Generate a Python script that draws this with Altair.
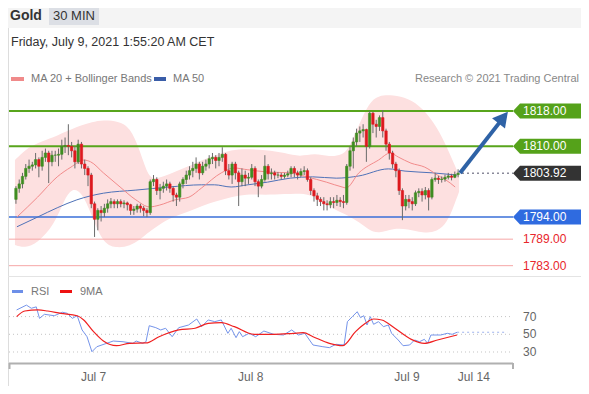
import altair as alt
import pandas as pd

FONT = "Liberation Sans"
W, H = 573, 378

# ---------------- data ----------------
first_open = 1798.0
closes = [1800.5, 1801.5, 1803.2, 1805, 1805.5, 1805.8, 1807, 1805.5, 1807.5, 1808.5,
          1806.5, 1808, 1808, 1808.2, 1810, 1810.2, 1810, 1809, 1806.5, 1810.5,
          1806, 1805, 1803.5, 1797, 1793.5, 1795.5, 1795, 1796, 1797, 1797.5,
          1797, 1797.5, 1797, 1797.2, 1796.8, 1795.5, 1795.8, 1796.5, 1796, 1795.5,
          1795, 1802, 1802.5, 1800, 1800.5, 1801, 1801.5, 1800.5, 1799, 1798.5,
          1801.5, 1802.5, 1803.5, 1804.5, 1805, 1806, 1804, 1805.5, 1806, 1807.2,
          1807.5, 1806.8, 1807.5, 1808.2, 1804.5, 1803.5, 1806, 1804, 1802, 1803.5,
          1802.8, 1803, 1805, 1802, 1801, 1802.5, 1805.5, 1803.8, 1804, 1803.5,
          1803.5, 1803.2, 1803.5, 1803.8, 1805, 1804, 1803.5, 1804.3, 1804.5, 1802.5,
          1800, 1798.8, 1798, 1797.5, 1797, 1796.8, 1797.5, 1797.3, 1797.8, 1797.5,
          1797.3, 1805.5, 1809, 1811, 1813, 1813.5, 1813.8, 1810, 1817.5, 1815,
          1814.5, 1816.5, 1813.5, 1810.5, 1808.5, 1806, 1804.5, 1800, 1796.5, 1798,
          1797.5, 1797, 1799.5, 1799.8, 1799, 1800, 1798.5, 1802.5, 1802.8, 1802.5,
          1802.6, 1803, 1803.3, 1803, 1803.6, 1803.92]
highs = [1801, 1802.5, 1804, 1806, 1807, 1806.5, 1808.5, 1807.5, 1809, 1809.5,
         1809, 1809, 1809, 1809.5, 1811.5, 1812, 1815, 1811, 1810, 1811.5,
         1811, 1807, 1805.5, 1804, 1797.5, 1796, 1796.5, 1797, 1798, 1798.3,
         1798, 1798, 1798, 1797.8, 1797.5, 1797, 1796.5, 1797, 1797, 1796.5,
         1796, 1802.5, 1803.5, 1803, 1801.5, 1802, 1802.5, 1802, 1801, 1799.5,
         1802, 1803, 1804.5, 1805.5, 1806.5, 1807.5, 1806.5, 1806.5, 1807, 1808,
         1808.5, 1808, 1808.5, 1809.8, 1808.5, 1806, 1806.5, 1806.5, 1804.5, 1805,
         1804.5, 1804, 1806, 1805.5, 1802.5, 1803.5, 1808, 1806, 1805, 1804.5,
         1804.2, 1804, 1804, 1804.5, 1805.5, 1805.5, 1804.5, 1805, 1805.5, 1805,
         1803, 1800.5, 1799.5, 1798.5, 1798.5, 1797.8, 1798.5, 1798.5, 1799, 1798.5,
         1799, 1806, 1810, 1812, 1814, 1814.5, 1815, 1814, 1818, 1817.8,
         1816, 1817, 1818.2, 1814, 1811, 1809, 1806.5, 1805, 1800.5, 1799,
         1799, 1798.5, 1800, 1800.5, 1800.5, 1800.8, 1800.5, 1803, 1804, 1803.3,
         1803.2, 1803.6, 1804, 1803.8, 1804.3, 1804.8]
lows = [1797, 1799.5, 1800.5, 1802.5, 1804, 1804.5, 1805, 1803, 1804.5, 1806.5,
        1801.7, 1805.5, 1806.5, 1805.5, 1807, 1808.5, 1808, 1807.5, 1805, 1806,
        1805, 1803.5, 1801, 1796, 1789.5, 1791, 1793, 1794, 1795, 1796,
        1796, 1796, 1796.2, 1796, 1795.5, 1794.5, 1794.5, 1795, 1795, 1794.2,
        1794, 1794.5, 1801, 1799, 1798, 1799.5, 1800, 1799.5, 1797.5, 1796.5,
        1797.5, 1800.5, 1801.5, 1802.5, 1803, 1804, 1802.5, 1803.5, 1804.5, 1805,
        1806, 1805, 1805.5, 1806.5, 1803.5, 1802.5, 1801.5, 1802.5, 1796.5, 1801,
        1801, 1801.5, 1802.5, 1801, 1798.5, 1800.5, 1802, 1802.5, 1802.5, 1802.5,
        1802.8, 1802.5, 1802.7, 1803, 1803, 1803, 1802.5, 1803, 1803.5, 1802,
        1799, 1797.5, 1796.5, 1796.5, 1795.5, 1795.5, 1796, 1796, 1796.5, 1796.3,
        1796, 1796.8, 1804.5, 1805, 1810, 1811, 1812, 1806.5, 1809.5, 1813,
        1812, 1813.5, 1812, 1809, 1807, 1805, 1803, 1799, 1793.3, 1795.5,
        1796, 1795.5, 1796.5, 1798.5, 1797.5, 1798, 1795.5, 1798, 1802, 1801.5,
        1801.8, 1802, 1802.5, 1802.3, 1802.8, 1803]

bb_idx = [-0.3, 2.7, 6.6, 11.7, 14.7, 17.1, 20.1, 23.1, 26.7, 31.2, 34.8, 37.8, 40.2,
          42.3, 46.8, 52.2, 56.7, 61.2, 65.7, 70.2, 76.2, 82.2, 86.7, 91.2, 95.7,
          99.6, 101.7, 104.7, 107.7, 110.7, 115.2, 119.7, 124.2, 128.7, 131.7, 133.5, 135.3]
bb_upper = [1806.9, 1809.2, 1810.8, 1812.1, 1813.2, 1813.9, 1814.8, 1815.5, 1816.0, 1815.7,
            1814.4, 1809.2, 1803.5, 1802.4, 1803.7, 1805.3, 1806.9, 1808.0, 1809.2, 1809.4,
            1809.2, 1808.5, 1807.6, 1808.5, 1807.6, 1808.0, 1809.6, 1814.8, 1819.8, 1821.6,
            1821.6, 1820.9, 1818.7, 1814.2, 1809.6, 1806.5, 1803.5]
bb_lower = [1787.7, 1787.0, 1788.1, 1792.2, 1797.9, 1800.6, 1799.7, 1794.5, 1787.7, 1787.0,
            1787.5, 1788.8, 1790.4, 1791.5, 1793.8, 1795.1, 1796.5, 1797.6, 1798.5, 1799.2,
            1799.0, 1799.2, 1799.4, 1798.8, 1796.3, 1794.9, 1794.2, 1792.9, 1791.1, 1790.2,
            1791.5, 1791.3, 1790.4, 1790.6, 1792.9, 1796.1, 1799.7]

ma20_idx = [0.3, 6.6, 12.6, 16.8, 20.7, 22.8, 26.7, 31.8, 36.6, 40.8, 43.8, 48.6, 52.8, 56.7,
            62.7, 66.6, 70.8, 76.8, 83.7, 88.8, 94.8, 99.6, 100.8, 104.7, 110.7, 114.3,
            116.7, 120.6, 124.8, 128.7, 132.6, 134.1]
ma20_val = [1794.0, 1798.5, 1803.1, 1805.3, 1806.9, 1806.5, 1804.0, 1800.8, 1797.9, 1796.3,
            1796.7, 1797.9, 1798.5, 1800.6, 1804.0, 1805.1, 1804.7, 1804.2, 1804.0, 1803.1,
            1801.9, 1800.8, 1800.6, 1804.0, 1806.9, 1808.5, 1807.6, 1806.2, 1805.3, 1803.5,
            1801.7, 1800.8]
ma50_idx = [0.3, 6.6, 12.6, 18.6, 22.8, 26.7, 36.6, 46.8, 56.7, 60.6, 65.7, 70.8, 76.8, 83.7,
            90.6, 97.8, 104.7, 113.7, 118.8, 127.3, 134.7]
ma50_val = [1791.8, 1794.0, 1796.1, 1797.9, 1798.8, 1799.4, 1800.1, 1800.8, 1801.3, 1801.3,
            1800.8, 1801.3, 1801.9, 1802.8, 1803.1, 1802.8, 1803.3, 1804.9, 1804.4, 1804.0,
            1803.5]

rsi_idx = [0.2, 3.2, 4.7, 6.2, 7.2, 8.7, 11.7, 14.2, 15.7, 17.2, 18.7, 20.2, 21.7, 23.2, 24.7,
           27.7, 29.7, 32.7, 35.7, 36.7, 38.7, 39.7, 40.7, 42.7, 44.2, 45.7, 47.7, 49.7, 52.7,
           55.2, 56.7, 58.7, 60.7, 62.7, 64.7, 65.7, 67.2, 68.2, 69.2, 71.2, 73.2, 75.7, 78.7,
           81.7, 84.2, 86.2, 88.2, 90.7, 93.7, 95.7, 97.7, 100.2, 101.2, 102.7, 104.2, 105.2,
           106.2, 107.2, 108.2, 109.2, 110.7, 112.2, 113.7, 114.7, 116.7, 118.2, 120.2, 121.7,
           123.2, 124.7, 125.7, 126.7, 129.7, 131.7, 133.2, 134.7]
rsi_val = [77.5, 83, 79.4, 81, 68, 72.6, 71, 74.9, 73.7, 68, 71, 54.9, 47.3, 30.3, 36,
           39.8, 42.4, 41.6, 39.8, 42.4, 39.8, 41.6, 59.7, 57.5, 54.9, 56.8, 47.3, 57.5, 60.5,
           67.3, 58.6, 66.2, 64.3, 66.2, 51.1, 56.8, 46.2, 53, 47.3, 51.1, 47.3, 53.7, 50,
           49.2, 54.9, 49.2, 51.1, 37.9, 36, 34.9, 38.7, 37.9, 64.3, 69.9, 75.5, 68.8,
           71, 60.5, 69.9, 61.3, 64.3, 58.6, 60.5, 51.1, 43.6, 37.1, 37.9, 43.6,
           41.6, 44.3, 39.8, 49.2, 49.2, 51.1, 50, 52.3]
rsi_ma_idx = [0.2, 2.7, 6.7, 9.7, 13.7, 18.7, 20.7, 23.7, 26.7, 30.7, 34.7, 39.7, 43.7, 49.7,
              54.7, 58.7, 62.7, 66.7, 72.7, 78.7, 84.7, 87.7, 90.7, 95.7, 99.7, 103.7, 106.7,
              109.2, 111.7, 115.7, 120.7, 124.7, 128.7, 134.7]
rsi_ma_val = [70, 76.3, 77.5, 76.3, 73.7, 71, 66.2, 53, 42.4, 37.1, 39.8, 40.2, 47.3, 54.9,
              56.8, 62.4, 63.1, 58.6, 50, 50, 51.1, 51.8, 47.3, 39.8, 37.1, 53, 62.4,
              67.3, 66.2, 56.8, 44.3, 39.8, 43.6, 49.2]

green_levels = [1818.0, 1810.0]
blue_level = 1794.0
red_levels = [1789.0, 1783.0]
last_price = 1803.92
rsi_levels = [70, 50, 30]
date_labels = ["Jul 7", "Jul 8", "Jul 9", "Jul 14"]
date_pos = [23.7, 71.7, 119.4, 139.8]
arrow_idx = [135.6, 148.4]
arrow_val = [1803.97, 1816.1]
arrow_tip = [150.2, 1817.84]

# ---------------- scales ----------------
xs = alt.Scale(domain=[-0.9, 171.0], nice=False, zero=False)
ps = alt.Scale(domain=[1755.78, 1841.30], nice=False, zero=False)
rs = alt.Scale(domain=[-8.42, 418.70], nice=False, zero=False)

def X(f):
    return alt.X(f, type="quantitative", scale=xs, axis=None)

def YP(f):
    return alt.Y(f, type="quantitative", scale=ps, axis=None)

def YR(f):
    return alt.Y(f, type="quantitative", scale=rs, axis=None)

ONE = pd.DataFrame({"k": [0]})

def text(s, x, y, size=11, color="#777777", weight="normal", align="left"):
    return alt.Chart(ONE).mark_text(text=s, font=FONT, fontSize=size, color=color,
                                    fontWeight=weight, align=align, baseline="middle").encode(
        x=alt.value(x - 8), y=alt.value(y - 8))

def rect(x0, x1, y0, y1, color):
    return alt.Chart(ONE).mark_rect(color=color).encode(
        x=alt.value(max(0, x0 - 8)), x2=alt.value(x1 - 8),
        y=alt.value(max(0, y0 - 8)), y2=alt.value(y1 - 8))

def hline(x0, x1, y, color, width=1, dash=None):
    kw = dict(color=color, strokeWidth=width)
    if dash:
        kw["strokeDash"] = dash
    return alt.Chart(ONE).mark_rule(**kw).encode(
        x=alt.value(x0 - 8), x2=alt.value(x1 - 8), y=alt.value(y - 8))

layers = []

# header
layers.append(rect(0, 8 + W, 0, 28, "#f4f4f4"))
layers.append(rect(49, 99, 0, 25, "#dcdfe5"))
layers.append(text("Gold", 10, 16, size=14, color="#333333", weight="bold"))
layers.append(text("30 MIN", 74, 16, size=13, color="#333333", align="center"))
layers.append(text("Friday, July 9, 2021 1:55:20 AM CET", 11, 42, size=12.5, color="#333333"))

# legend
layers.append(rect(11, 24, 77, 81, "#f08a8a"))
layers.append(text("MA 20 + Bollinger Bands", 31, 79))
layers.append(rect(154, 166, 77, 81, "#3a5da8"))
layers.append(text("MA 50", 173, 79))
layers.append(text("Research \u00a9 2021 Trading Central", 579, 79, color="#888888", align="right"))

# bollinger band
bb = pd.DataFrame({"i": bb_idx, "hi": bb_upper, "lo": bb_lower})
layers.append(alt.Chart(bb).mark_area(color="#fde0e0", interpolate="basis").encode(
    x=X("i"), y=YP("lo"), y2="hi"))

# level lines
for p in green_levels:
    layers.append(alt.Chart(pd.DataFrame({"p": [p]})).mark_rule(color="#58a51c", strokeWidth=2).encode(
        x=alt.value(1), x2=alt.value(505), y=YP("p")))
layers.append(alt.Chart(pd.DataFrame({"p": [blue_level]})).mark_rule(color="#3a6fd8", strokeWidth=1.5).encode(
    x=alt.value(1), x2=alt.value(505), y=YP("p")))
for p in red_levels:
    layers.append(alt.Chart(pd.DataFrame({"p": [p]})).mark_rule(color="#f6a6a6", strokeWidth=1).encode(
        x=alt.value(1), x2=alt.value(505), y=YP("p")))

# moving averages
m50 = pd.DataFrame({"i": ma50_idx, "v": ma50_val})
layers.append(alt.Chart(m50).mark_line(color="#4f72b8", strokeWidth=1, interpolate="monotone").encode(
    x=X("i"), y=YP("v")))
m20 = pd.DataFrame({"i": ma20_idx, "v": ma20_val})
layers.append(alt.Chart(m20).mark_line(color="#f28b8b", strokeWidth=1, interpolate="monotone").encode(
    x=X("i"), y=YP("v")))

# candles
opens = [first_open] + closes[:-1]
cdf = pd.DataFrame({"i": list(range(len(closes))), "o": opens, "c": closes, "h": highs, "l": lows})
cdf["dir"] = ["up" if c >= o else "down" for o, c in zip(opens, closes)]
layers.append(alt.Chart(cdf).mark_rule(color="#6a6a6a", strokeWidth=1).encode(
    x=X("i"), y=YP("l"), y2="h"))
cscale = alt.Scale(domain=["up", "down"], range=["#3f8d22", "#dd1a1f"])
layers.append(alt.Chart(cdf).mark_bar(size=2.4, strokeWidth=0.6).encode(
    x=X("i"), y=YP("o"), y2="c",
    color=alt.Color("dir:N", scale=cscale, legend=None),
    stroke=alt.Stroke("dir:N", scale=cscale, legend=None)))

# last price dotted line
layers.append(alt.Chart(pd.DataFrame({"p": [last_price]})).mark_rule(
    color="#8a8a9a", strokeWidth=1.5, strokeDash=[2, 3]).encode(
    x=alt.value(454), x2=alt.value(505), y=YP("p")))

# arrow
adf = pd.DataFrame({"i": arrow_idx, "v": arrow_val})
layers.append(alt.Chart(adf).mark_line(color="#2e62a6", strokeWidth=4).encode(x=X("i"), y=YP("v")))
tdf = pd.DataFrame({"i": [arrow_tip[0]], "v": [arrow_tip[1]]})
layers.append(alt.Chart(tdf).mark_point(shape="M0,0 L-0.55,1 L0.55,1 Z", filled=True, size=900,
                                        angle=38.5, color="#2e62a6", opacity=1).encode(
    x=X("i"), y=YP("v")))

# price tags (box spans page x 513..581)
TAG = "M-1,0 L-0.794,-0.22 L1,-0.22 L1,0.22 L-0.794,0.22 Z"
tags = [(1818.0, "1818.00", "#55a21a"), (1810.0, "1810.00", "#55a21a"),
        (last_price, "1803.92", "#333333"), (blue_level, "1794.00", "#2f6be0")]
for p, lab, col in tags:
    d = pd.DataFrame({"p": [p], "lab": [lab]})
    layers.append(alt.Chart(d).mark_point(shape=TAG, filled=True, size=4624, color=col,
                                          opacity=1, strokeWidth=0).encode(
        x=alt.value(539), y=YP("p")))
    layers.append(alt.Chart(d).mark_text(font=FONT, fontSize=12, color="white", align="left",
                                         baseline="middle").encode(
        x=alt.value(515), y=YP("p"), text="lab:N"))
for p in red_levels:
    d = pd.DataFrame({"p": [p], "lab": ["%.2f" % p]})
    layers.append(alt.Chart(d).mark_text(font=FONT, fontSize=12, color="#e8262b", align="left",
                                         baseline="middle").encode(
        x=alt.value(515), y=YP("p"), text="lab:N"))

# separator
layers.append(hline(8, 8 + W, 276.5, "#e4e4e4", 1))

# RSI legend
layers.append(rect(12, 23, 290, 293, "#6d8fe8"))
layers.append(text("RSI", 31, 292))
layers.append(rect(60, 72, 290, 293, "#ee1111"))
layers.append(text("9MA", 80, 292))

# RSI levels
rl = pd.DataFrame({"v": rsi_levels, "lab": [str(v) for v in rsi_levels]})
layers.append(alt.Chart(rl).mark_rule(color="#c4c4c4", strokeWidth=1, strokeDash=[1, 3]).encode(
    x=alt.value(1), x2=alt.value(505), y=YR("v")))
layers.append(alt.Chart(rl).mark_text(font=FONT, fontSize=12, color="#666666", align="left",
                                      baseline="middle").encode(
    x=alt.value(515), y=YR("v"), text="lab:N"))

# RSI lines
rdf = pd.DataFrame({"i": rsi_idx, "v": rsi_val})
layers.append(alt.Chart(rdf).mark_line(color="#7594ea", strokeWidth=1).encode(x=X("i"), y=YR("v")))
ext = pd.DataFrame({"i": [rsi_idx[-1], 150.0], "v": [rsi_val[-1], rsi_val[-1]]})
layers.append(alt.Chart(ext).mark_line(color="#9fb3ee", strokeWidth=1, strokeDash=[2, 3]).encode(
    x=X("i"), y=YR("v")))
mdf = pd.DataFrame({"i": rsi_ma_idx, "v": rsi_ma_val})
layers.append(alt.Chart(mdf).mark_line(color="#f02020", strokeWidth=1.2, interpolate="monotone").encode(
    x=X("i"), y=YR("v")))

# x axis
layers.append(hline(9, 513, 363.5, "#b0b0b0", 2))
layers.append(alt.Chart(ONE).mark_rule(color="#b0b0b0", strokeWidth=2).encode(
    x=alt.value(1.5), y=alt.value(355), y2=alt.value(361)))
layers.append(alt.Chart(ONE).mark_rule(color="#b0b0b0", strokeWidth=2).encode(
    x=alt.value(505), y=alt.value(355), y2=alt.value(361)))
ddf = pd.DataFrame({"i": date_pos, "lab": date_labels})
layers.append(alt.Chart(ddf).mark_text(font=FONT, fontSize=12, color="#666666", baseline="middle").encode(
    x=X("i"), y=alt.value(369), text="lab:N"))

chart = alt.layer(*layers).resolve_scale(y="independent").properties(
    width=W, height=H, autosize=alt.AutoSizeParams(type="none"), padding=0
).configure_view(strokeWidth=0).configure(background="white")

chart.save("out.html", embed_options={"renderer": "svg", "actions": False})
